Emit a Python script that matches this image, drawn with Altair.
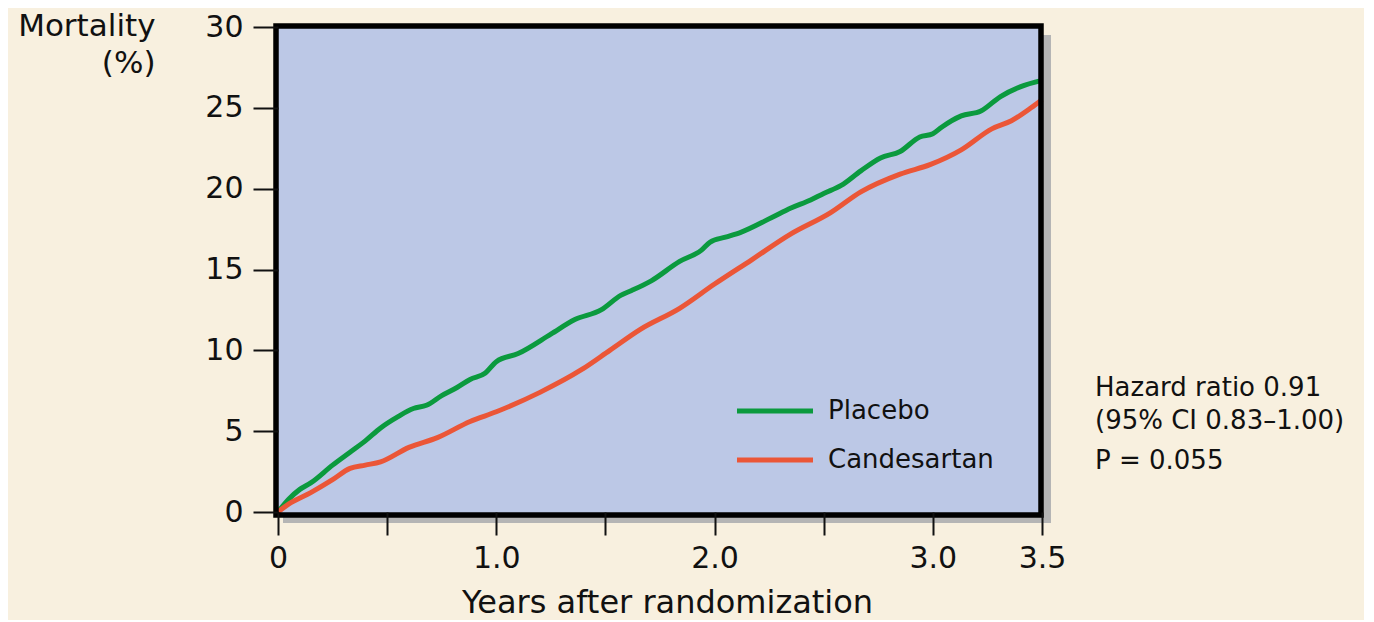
import altair as alt
import pandas as pd

# ---- data ----
placebo_t = [0.0, 0.05, 0.10, 0.15, 0.25, 0.33, 0.40, 0.47, 0.55, 0.62, 0.68, 0.75, 0.82, 0.88, 0.95,
             1.00, 1.10, 1.25, 1.36, 1.48, 1.57, 1.62, 1.71, 1.84, 1.94, 1.98, 2.05, 2.12, 2.26, 2.35,
             2.44, 2.50, 2.58, 2.67, 2.76, 2.85, 2.94, 3.00, 3.04, 3.13, 3.22, 3.31, 3.40, 3.50]
placebo_v = [0.0, 0.8, 1.4, 1.8, 2.9, 3.7, 4.4, 5.2, 5.9, 6.4, 6.6, 7.2, 7.7, 8.2, 8.6,
             9.3, 9.8, 11.0, 11.9, 12.5, 13.4, 13.7, 14.3, 15.5, 16.2, 16.7, 17.0, 17.3, 18.2, 18.8,
             19.3, 19.7, 20.2, 21.1, 21.9, 22.3, 23.2, 23.4, 23.8, 24.5, 24.8, 25.7, 26.3, 26.7]

cand_t = [0.0, 0.05, 0.15, 0.25, 0.33, 0.40, 0.47, 0.60, 0.73, 0.88, 1.00, 1.20, 1.39, 1.52, 1.66,
          1.84, 2.00, 2.17, 2.35, 2.53, 2.67, 2.85, 2.99, 3.13, 3.27, 3.36, 3.45, 3.50]
cand_v = [0.0, 0.5, 1.2, 2.0, 2.7, 2.9, 3.1, 4.0, 4.6, 5.6, 6.2, 7.4, 8.8, 10.0, 11.3,
          12.6, 14.1, 15.6, 17.2, 18.5, 19.8, 20.9, 21.5, 22.4, 23.7, 24.2, 25.0, 25.5]

series_names = ["Placebo", "Candesartan"]
series_colors = ["#0b9a3e", "#eb5637"]

x_ticks = [0, 0.5, 1.0, 1.5, 2.0, 2.5, 3.0, 3.5]
y_ticks = [0, 5, 10, 15, 20, 25, 30]

annotation_lines = ["Hazard ratio 0.91", "(95% CI 0.83\u20131.00)", "P = 0.055"]

FONT = "DejaVu Sans"
W, H = 764, 485

df = pd.concat([
    pd.DataFrame({"t": placebo_t, "v": placebo_v, "series": series_names[0]}),
    pd.DataFrame({"t": cand_t, "v": cand_v, "series": series_names[1]}),
])

xscale = alt.Scale(domain=[0, 3.5], nice=False, zero=False)
yscale = alt.Scale(domain=[0, 30], nice=False)

label_expr = ("datum.value == 0 ? '0' : (datum.value == 3.5 ? '3.5' : "
              "(datum.value % 1 == 0 ? format(datum.value, '.1f') : ''))")

x_axis = alt.Axis(values=x_ticks, labelExpr=label_expr, grid=False, domain=False,
                  tickSize=23, tickWidth=2, tickColor="#111", labelFontSize=30,
                  labelFont=FONT, labelColor="#111", labelBaseline="alphabetic",
                  labelPadding=32, labelFlush=False, labelOverlap=False,
                  title="Years after randomization", titleFont=FONT, titleFontSize=32,
                  titleFontWeight="normal", titleColor="#111", titleX=389, titleY=100,
                  titleBaseline="alphabetic", titleAlign="center", zindex=2)

y_axis = alt.Axis(values=y_ticks, grid=False, domain=False, tickSize=25, tickWidth=2,
                  tickColor="#111", labelFontSize=30, labelFont=FONT, labelColor="#111",
                  labelPadding=10, labelAlign="right", labelBaseline="middle",
                  title=["Mortality", "(%)"], titleFont=FONT, titleFontSize=31,
                  titleFontWeight="normal", titleColor="#111", titleAngle=0,
                  titleAlign="right", titleBaseline="alphabetic", titleX=-123, titleY=8,
                  titleLineHeight=37, zindex=2)

base = alt.Chart(df)

shadow = alt.Chart(pd.DataFrame({"a": [0]})).mark_rect(color="#b5b5b5").encode(
    x=alt.value(5), x2=alt.value(W + 9), y=alt.value(8), y2=alt.value(H + 11))

panel = alt.Chart(pd.DataFrame({"a": [0]})).mark_rect(color="#bcc8e6").encode(
    x=alt.value(-2), x2=alt.value(W - 1), y=alt.value(-1), y2=alt.value(H + 3))

lines = base.mark_line(strokeWidth=5, interpolate="monotone").encode(
    x=alt.X("t:Q", scale=xscale, axis=x_axis),
    y=alt.Y("v:Q", scale=yscale, axis=y_axis),
    color=alt.Color("series:N", scale=alt.Scale(domain=series_names, range=series_colors),
                    legend=None),
)

border = alt.Chart(pd.DataFrame({"a": [0]})).mark_rect(
    fill=None, stroke="#000", strokeWidth=5.5, fillOpacity=0).encode(
    x=alt.value(-2), x2=alt.value(W - 1), y=alt.value(-1), y2=alt.value(H + 3))

# legend drawn manually inside the plot
leg_rows = []
for i, (name, col) in enumerate(zip(series_names, series_colors)):
    yy = 384 + 49 * i
    leg_rows.append(
        alt.Chart(pd.DataFrame({"a": [0]})).mark_rule(color=col, strokeWidth=5).encode(
            x=alt.value(459), x2=alt.value(535), y=alt.value(yy)))
    leg_rows.append(
        alt.Chart(pd.DataFrame({"a": [0]})).mark_text(
            text=name, font=FONT, fontSize=26, color="#111", align="left",
            baseline="middle").encode(x=alt.value(550), y=alt.value(yy)))

ann = []
for i, txt in enumerate(annotation_lines):
    ann.append(
        alt.Chart(pd.DataFrame({"a": [0]})).mark_text(
            text=txt, font=FONT, fontSize=26, color="#111", align="left",
            baseline="alphabetic").encode(x=alt.value(1095 - 278),
                                           y=alt.value([369, 402, 442][i])))

chart = alt.layer(shadow, panel, lines, border, *leg_rows, *ann).properties(
    width=W, height=H,
    background="#f8f0df",
    padding={"left": 270, "top": 19, "right": 322, "bottom": 108},
    autosize=alt.AutoSizeParams(type="none"),
).configure_view(stroke=None)

chart.save("out.html", embed_options={"renderer": "svg", "actions": False})
